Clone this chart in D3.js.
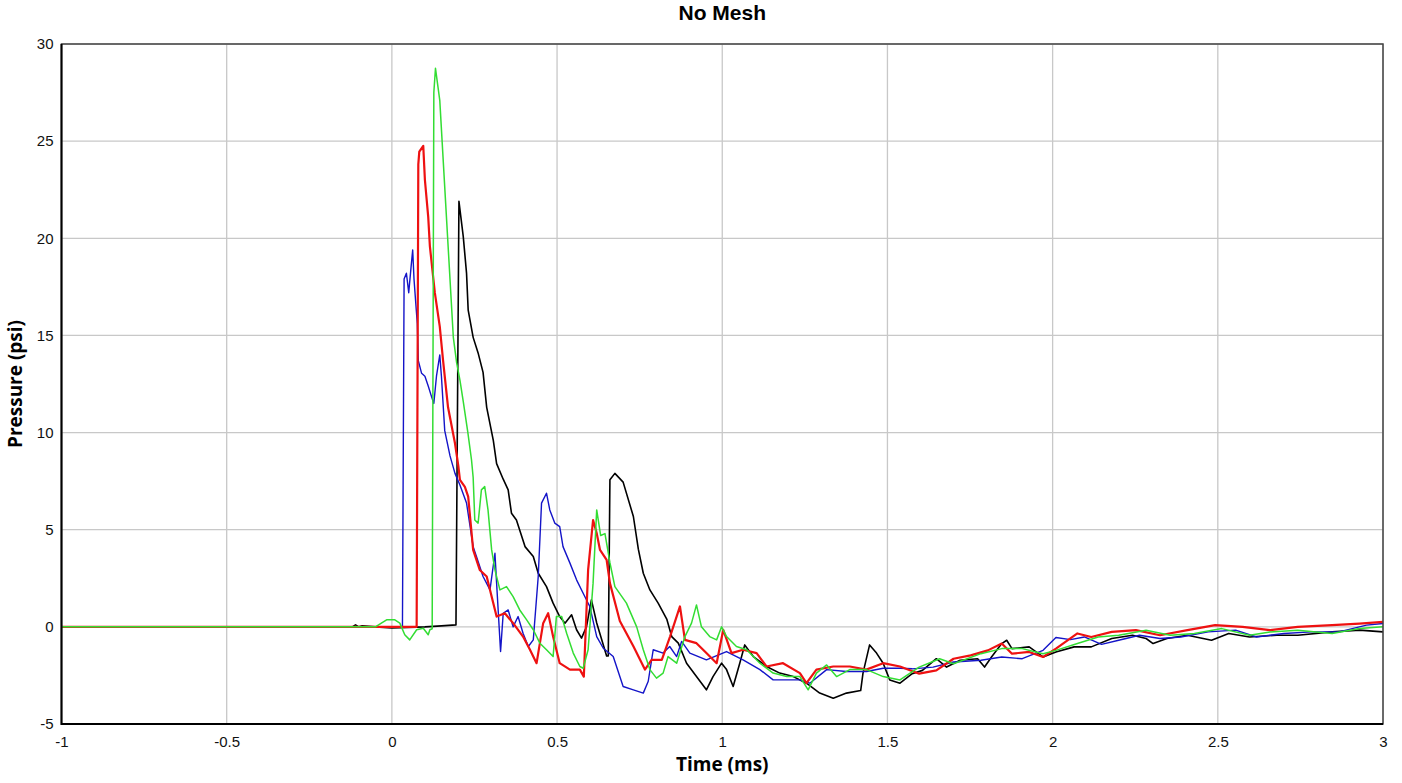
<!DOCTYPE html>
<html>
<head>
<meta charset="utf-8">
<script src="https://cdn.jsdelivr.net/npm/d3@7"></script>
<style>
  body { margin: 0; background: #fff; }
  svg { display: block; font-family: "Liberation Sans", Arial, sans-serif; }
</style>
</head>
<body>
<svg width="1402" height="783"></svg>
<script>
// time (ms) and pressure (psi)
const blackT = [-1, -0.5, -0.12, -0.11, -0.1, -0.09, -0.05, 0, 0.1, 0.15, 0.194, 0.203, 0.216, 0.226, 0.231, 0.246, 0.261, 0.276, 0.287, 0.307, 0.317, 0.337, 0.352, 0.362, 0.377, 0.403, 0.428, 0.443, 0.468, 0.488, 0.508, 0.524, 0.544, 0.559, 0.574, 0.589, 0.604, 0.62, 0.65, 0.655, 0.66, 0.675, 0.7, 0.731, 0.746, 0.761, 0.781, 0.806, 0.832, 0.847, 0.867, 0.892, 0.922, 0.952, 0.972, 0.998, 1.013, 1.033, 1.053, 1.068, 1.094, 1.134, 1.174, 1.215, 1.255, 1.295, 1.336, 1.376, 1.419, 1.426, 1.446, 1.467, 1.487, 1.507, 1.538, 1.575, 1.606, 1.648, 1.679, 1.72, 1.773, 1.794, 1.815, 1.846, 1.861, 1.877, 1.929, 1.971, 2.01, 2.065, 2.117, 2.179, 2.242, 2.283, 2.304, 2.346, 2.408, 2.481, 2.533, 2.596, 2.679, 2.742, 2.846, 2.929, 3.0];
const blackP = [0, 0, 0, 0.1, 0, 0.05, 0, -0.05, 0, 0.05, 0.1, 21.9, 20.1, 18.2, 16.3, 14.9, 14.1, 13.1, 11.3, 9.6, 8.4, 7.6, 7.05, 5.85, 5.5, 4.13, 3.62, 2.76, 2.07, 1.22, 0.53, 0.19, 0.62, -0.15, -0.58, 0, 1.39, 0.2, -1.5, -1.5, 7.57, 7.9, 7.45, 5.68, 4.0, 2.76, 1.9, 1.22, 0.4, -0.5, -0.84, -1.87, -2.56, -3.24, -2.56, -1.87, -2.2, -3.07, -1.87, -0.93, -1.53, -2.04, -2.38, -2.56, -2.9, -3.41, -3.67, -3.41, -3.28, -2.38, -0.93, -1.35, -1.87, -2.73, -2.9, -2.41, -2.24, -1.64, -2.07, -1.72, -1.64, -2.07, -1.55, -0.86, -0.69, -1.12, -1.03, -1.55, -1.29, -1.03, -1.03, -0.6, -0.43, -0.6, -0.86, -0.6, -0.43, -0.69, -0.34, -0.52, -0.43, -0.43, -0.26, -0.17, -0.26];

const blueT = [-1, 0.03, 0.032, 0.037, 0.044, 0.051, 0.058, 0.063, 0.067, 0.073, 0.077, 0.08, 0.09, 0.1, 0.11, 0.12, 0.127, 0.135, 0.145, 0.15, 0.16, 0.176, 0.191, 0.206, 0.226, 0.246, 0.256, 0.276, 0.297, 0.312, 0.317, 0.329, 0.337, 0.352, 0.367, 0.382, 0.397, 0.413, 0.428, 0.443, 0.453, 0.468, 0.478, 0.493, 0.508, 0.518, 0.539, 0.559, 0.579, 0.599, 0.62, 0.64, 0.67, 0.7, 0.731, 0.761, 0.776, 0.791, 0.821, 0.841, 0.862, 0.877, 0.902, 0.952, 1.013, 1.063, 1.114, 1.154, 1.195, 1.235, 1.265, 1.316, 1.376, 1.437, 1.487, 1.538, 1.575, 1.638, 1.7, 1.783, 1.846, 1.908, 1.971, 2.01, 2.054, 2.096, 2.148, 2.2, 2.263, 2.325, 2.388, 2.471, 2.554, 2.617, 2.7, 2.783, 2.867, 2.95, 3.0];
const blueP = [0, 0, 0, 17.9, 18.2, 17.2, 18.5, 19.4, 17.9, 16.5, 15.6, 13.7, 13.05, 12.9, 12.4, 11.85, 11.5, 12.9, 14.0, 12.9, 10.1, 8.8, 7.9, 7.3, 6.37, 4.13, 3.62, 2.59, 1.9, 3.79, 2.25, -1.27, 0.7, 0.87, 0, 0.53, -0.33, -1.01, -0.67, 2.59, 6.37, 6.88, 6.02, 5.34, 5.16, 4.13, 3.28, 2.42, 1.73, 1.05, -0.5, -1.1, -1.53, -3.07, -3.24, -3.41, -2.8, -1.18, -1.35, -1.01, -1.53, -0.75, -1.35, -1.7, -1.27, -1.7, -2.2, -2.73, -2.73, -2.73, -2.9, -2.2, -2.3, -2.3, -2.13, -2.13, -2.16, -2.07, -1.81, -1.72, -1.55, -1.64, -1.21, -0.55, -0.66, -0.52, -0.9, -0.69, -0.43, -0.6, -0.52, -0.26, -0.17, -0.52, -0.34, -0.26, -0.26, 0.09, 0.17];

const redT = [-1, 0.07, 0.075, 0.08, 0.083, 0.095, 0.1, 0.11, 0.115, 0.13, 0.145, 0.155, 0.17, 0.191, 0.201, 0.206, 0.221, 0.231, 0.246, 0.266, 0.287, 0.307, 0.317, 0.342, 0.367, 0.397, 0.418, 0.438, 0.458, 0.473, 0.488, 0.508, 0.539, 0.569, 0.581, 0.594, 0.609, 0.62, 0.63, 0.65, 0.66, 0.69, 0.731, 0.766, 0.786, 0.817, 0.842, 0.872, 0.887, 0.922, 0.952, 0.983, 1.003, 1.028, 1.063, 1.104, 1.134, 1.184, 1.235, 1.255, 1.285, 1.336, 1.386, 1.436, 1.487, 1.538, 1.596, 1.648, 1.7, 1.752, 1.804, 1.846, 1.877, 1.929, 1.971, 2.01, 2.075, 2.117, 2.179, 2.252, 2.325, 2.408, 2.492, 2.575, 2.658, 2.742, 2.846, 2.929, 3.0];
const redP = [0, 0, 0, 23.8, 24.46, 24.75, 23.0, 21.1, 19.6, 17.2, 15.45, 13.7, 11.3, 9.45, 8.3, 7.57, 7.2, 6.7, 3.96, 2.93, 2.59, 1.22, 0.53, 0.7, 0.19, -0.5, -1.18, -1.87, 0.19, 0.7, -0.5, -1.87, -2.2, -2.2, -2.56, 2.93, 5.5, 4.82, 3.96, 3.45, 2.25, 0.3, -1.0, -2.2, -1.7, -1.7, -0.5, 1.05, -0.67, -0.84, -1.35, -1.87, -0.15, -1.35, -1.18, -1.35, -2.04, -1.87, -2.38, -2.9, -2.2, -2.04, -2.04, -2.2, -1.87, -2.04, -2.41, -2.24, -1.64, -1.47, -1.21, -0.86, -1.38, -1.29, -1.55, -1.12, -0.34, -0.52, -0.26, -0.17, -0.43, -0.17, 0.09, 0, -0.17, 0, 0.09, 0.17, 0.26];

const greenT = [-1, -0.05, -0.016, 0.009, 0.024, 0.039, 0.054, 0.075, 0.095, 0.11, 0.115, 0.122, 0.127, 0.132, 0.145, 0.186, 0.196, 0.206, 0.216, 0.23, 0.241, 0.246, 0.251, 0.261, 0.271, 0.281, 0.291, 0.302, 0.312, 0.327, 0.347, 0.367, 0.387, 0.408, 0.428, 0.448, 0.468, 0.488, 0.498, 0.514, 0.529, 0.549, 0.569, 0.579, 0.594, 0.609, 0.62, 0.632, 0.645, 0.66, 0.675, 0.71, 0.741, 0.761, 0.781, 0.801, 0.821, 0.836, 0.862, 0.887, 0.907, 0.922, 0.937, 0.962, 0.983, 0.998, 1.013, 1.043, 1.074, 1.114, 1.154, 1.195, 1.235, 1.26, 1.285, 1.316, 1.346, 1.386, 1.437, 1.487, 1.538, 1.596, 1.658, 1.7, 1.783, 1.846, 1.908, 1.971, 2.01, 2.075, 2.138, 2.2, 2.283, 2.356, 2.429, 2.512, 2.596, 2.658, 2.742, 2.846, 2.929, 3.0];
const greenP = [0, 0, 0.36, 0.36, 0.19, -0.41, -0.67, -0.15, -0.07, -0.41, -0.15, -0.1, 27.5, 28.75, 27.1, 14.9, 13.6, 12.7, 11.6, 10.0, 8.6, 7.7, 5.5, 5.34, 7.05, 7.22, 6.02, 3.96, 2.93, 1.9, 2.07, 1.56, 0.87, 0.36, -0.15, -0.84, -1.18, -1.53, 0.53, 0.53, -0.33, -1.35, -2.04, -2.13, -1.18, 2.25, 6.02, 4.7, 4.8, 3.3, 2.07, 1.22, 0, -1.18, -2.2, -2.64, -2.38, -1.53, -1.87, -0.5, 0.19, 1.13, 0, -0.5, -0.67, 0, -0.5, -1.01, -1.18, -1.87, -2.38, -2.56, -2.56, -3.24, -2.38, -1.96, -2.56, -2.2, -2.2, -2.56, -2.73, -2.07, -1.64, -1.9, -1.38, -1.12, -1.12, -1.38, -1.21, -0.86, -0.52, -0.43, -0.17, -0.43, -0.34, -0.09, -0.43, -0.26, -0.17, -0.34, -0.09, 0];

const xTicks = [-1, -0.5, 0, 0.5, 1, 1.5, 2, 2.5, 3];
const xTickLabels = ["-1", "-0.5", "0", "0.5", "1", "1.5", "2", "2.5", "3"];
const yTicks = [-5, 0, 5, 10, 15, 20, 25, 30];

const series = [
  { name: "black", color: "#000000", width: 1.6, t: blackT, p: blackP },
  { name: "blue", color: "#1414c8", width: 1.4, t: blueT, p: blueP },
  { name: "red", color: "#ee1111", width: 2.2, t: redT, p: redP },
  { name: "green", color: "#33dd33", width: 1.5, t: greenT, p: greenP }
];

let width = 1402,
    height = 783;
const margin = { top: 44, right: 19, bottom: 59, left: 61.5 };

let svg = d3.select("svg");

const x = d3.scaleLinear().domain([-1, 3]).range([margin.left, width - margin.right]);
const y = d3.scaleLinear().domain([-5, 30]).range([height - margin.bottom, margin.top]);

// grid
svg.append("g")
    .selectAll("line")
    .data(xTicks)
    .enter()
    .append("line")
    .attr("x1", (d) => x(d))
    .attr("x2", (d) => x(d))
    .attr("y1", y(30))
    .attr("y2", y(-5))
    .attr("stroke", "#c8c8c8")
    .attr("stroke-width", 1.3);

svg.append("g")
    .selectAll("line")
    .data(yTicks)
    .enter()
    .append("line")
    .attr("x1", x(-1))
    .attr("x2", x(3))
    .attr("y1", (d) => y(d))
    .attr("y2", (d) => y(d))
    .attr("stroke", "#c8c8c8")
    .attr("stroke-width", 1.3);

// series
const line = d3.line()
    .x((d) => x(d[0]))
    .y((d) => y(d[1]));

svg.append("g")
    .selectAll("path")
    .data(series)
    .enter()
    .append("path")
    .attr("d", (s) => line(d3.zip(s.t, s.p)))
    .attr("fill", "none")
    .attr("stroke", (s) => s.color)
    .attr("stroke-width", (s) => s.width)
    .attr("stroke-linejoin", "round");

// frame
svg.append("rect")
    .attr("x", x(-1))
    .attr("y", y(30))
    .attr("width", x(3) - x(-1))
    .attr("height", y(-5) - y(30))
    .attr("fill", "none")
    .attr("stroke", "#444")
    .attr("stroke-width", 1.5);

svg.append("path")
    .attr("d", `M${x(-1)},${y(30)}V${y(-5)}H${x(3)}`)
    .attr("fill", "none")
    .attr("stroke", "#000")
    .attr("stroke-width", 2);

// axes (labels only, no tick marks)
const xAxis = d3.axisBottom(x)
    .tickValues(xTicks)
    .tickSize(0)
    .tickPadding(12)
    .tickFormat((d, i) => xTickLabels[i]);

svg.append("g")
    .attr("transform", `translate(0, ${y(-5)})`)
    .call(xAxis)
    .call((g) => g.select(".domain").remove())
    .selectAll("text")
    .attr("font-size", "15px")
    .attr("font-family", "Liberation Sans, Arial, sans-serif")
    .attr("fill", "#111");

const yAxis = d3.axisLeft(y)
    .tickValues(yTicks)
    .tickSize(0)
    .tickPadding(8)
    .tickFormat((d) => String(d));

svg.append("g")
    .attr("transform", `translate(${x(-1)}, 0)`)
    .call(yAxis)
    .call((g) => g.select(".domain").remove())
    .selectAll("text")
    .attr("font-size", "15px")
    .attr("font-family", "Liberation Sans, Arial, sans-serif")
    .attr("fill", "#111");

// titles
svg.append("text")
    .attr("x", (x(-1) + x(3)) / 2)
    .attr("y", 20)
    .attr("text-anchor", "middle")
    .attr("font-size", "21px")
    .attr("font-weight", "bold")
    .text("No Mesh");

svg.append("text")
    .attr("x", (x(-1) + x(3)) / 2)
    .attr("y", 771)
    .attr("text-anchor", "middle")
    .attr("font-family", "'Open Sans', sans-serif")
    .attr("font-size", "19px")
    .attr("font-weight", "bold")
    .text("Time (ms)");

svg.append("text")
    .attr("transform", `translate(22, ${(y(30) + y(-5)) / 2}) rotate(-90)`)
    .attr("text-anchor", "middle")
    .attr("font-family", "'Open Sans', sans-serif")
    .attr("font-size", "19px")
    .attr("font-weight", "bold")
    .text("Pressure (psi)");
</script>
</body>
</html>
